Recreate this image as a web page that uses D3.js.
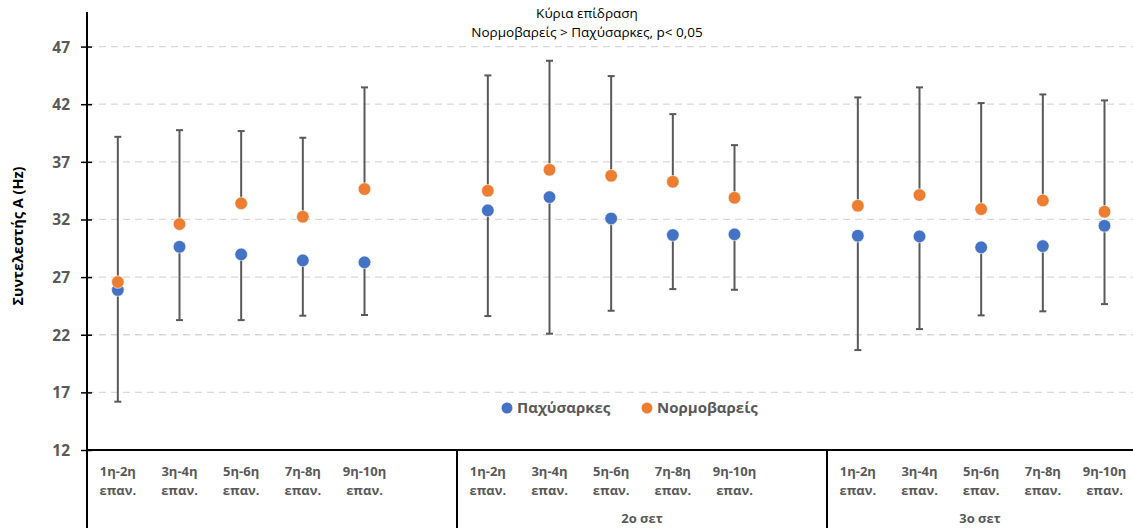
<!DOCTYPE html>
<html>
<head>
<meta charset="utf-8">
<script src="https://cdn.jsdelivr.net/npm/d3@7"></script>
<style>
  html, body { margin: 0; padding: 0; background: #fff; }
  svg { display: block; font-family: "Open Sans", "Noto Sans", sans-serif; }
</style>
</head>
<body>
<svg id="chart" width="1133" height="528"></svg>
<script>
// ---- data ----
const catLine1 = ["1η-2η", "3η-4η", "5η-6η", "7η-8η", "9η-10η"];
const catLine2 = "επαν.";
const setLabels = ["", "2ο σετ", "3ο σετ"];
const seriesNames = ["Παχύσαρκες", "Νορμοβαρείς"];
const yTicks = [12, 17, 22, 27, 32, 37, 42, 47];

// Παχύσαρκες (mean, SD shown below the mean)
const obeseMean = [25.88, 29.63, 28.97, 28.45, 28.28,
                   32.79, 33.94, 32.09, 30.65, 30.71,
                   30.59, 30.53, 29.58, 29.69, 31.45];
const obeseSD   = [9.69, 6.36, 5.70, 4.80, 4.57,
                   9.17, 11.85, 8.01, 4.69, 4.81,
                   9.92, 8.04, 5.90, 5.66, 6.79];
// Νορμοβαρείς (mean, SD shown above the mean)
const normalMean = [26.57, 31.60, 33.40, 32.24, 34.64,
                    34.49, 36.31, 35.79, 35.27, 33.88,
                    33.19, 34.12, 32.90, 33.65, 32.67];
const normalSD   = [12.60, 8.15, 6.27, 6.85, 8.82,
                    10.01, 9.46, 8.65, 5.87, 4.57,
                    9.40, 9.34, 9.20, 9.20, 9.66];

const titleLines = ["Κύρια επίδραση", "Νορμοβαρείς > Παχύσαρκες, p< 0,05"];
const yTitle = "Συντελεστής Α (Hz)";

(function () {
// ---- layout ----
const svg = d3.select("#chart");
const W = 1133, H = 528;
const plotLeft = 87, plotTop = 12, plotBottom = 450;
const slotsPerSet = 6;
const setWidth = 370;
const nSets = setLabels.length;
const slots = d3.range(nSets * slotsPerSet);

const x = d3.scaleBand().domain(slots).range([plotLeft, plotLeft + nSets * setWidth]).padding(0);
const y = d3.scaleLinear().domain([12, 50]).range([plotBottom, plotTop]);

const points = [];
for (let s = 0; s < nSets; s++) {
  for (let c = 0; c < catLine1.length; c++) {
    const i = s * catLine1.length + c;
    points.push({ slot: s * slotsPerSet + c, set: s, cat: c, i });
  }
}
const cx = d => x(d.slot) + x.bandwidth() / 2;

const grey = "#595959";
const blue = "#4472C4";
const orange = "#ED7D31";

// gridlines
svg.append("g").selectAll("line")
  .data(yTicks.filter(t => t !== 12))
  .join("line")
  .attr("x1", plotLeft).attr("x2", W)
  .attr("y1", d => y(d)).attr("y2", d => y(d))
  .attr("stroke", "#d9d9d9").attr("stroke-width", 1.3)
  .attr("stroke-dasharray", "7,5");

// y axis
const yAxis = d3.axisLeft(y).tickValues(yTicks).tickSize(0).tickPadding(0);
const gy = svg.append("g").attr("transform", `translate(${plotLeft},0)`).call(yAxis);
gy.select(".domain").remove();
gy.selectAll("text")
  .attr("x", -17).attr("dy", "0.35em")
  .attr("fill", grey).attr("font-size", 15.5).attr("font-weight", "bold")
  .attr("font-family", "'Open Sans', sans-serif");
gy.selectAll(".tick").append("line")
  .attr("x1", -6).attr("x2", 5).attr("stroke", "#000").attr("stroke-width", 1.5);

// axis lines
svg.append("line").attr("x1", plotLeft).attr("x2", plotLeft).attr("y1", plotTop).attr("y2", H)
  .attr("stroke", "#000").attr("stroke-width", 2);
svg.append("line").attr("x1", plotLeft).attr("x2", W).attr("y1", plotBottom).attr("y2", plotBottom)
  .attr("stroke", "#000").attr("stroke-width", 2);
// set separators
svg.append("g").selectAll("line")
  .data(d3.range(1, nSets))
  .join("line")
  .attr("x1", s => x(s * slotsPerSet)).attr("x2", s => x(s * slotsPerSet))
  .attr("y1", plotBottom).attr("y2", H)
  .attr("stroke", "#000").attr("stroke-width", 2);

// category labels
const catG = svg.append("g").selectAll("text").data(points).join("text")
  .attr("x", cx).attr("text-anchor", "middle")
  .attr("fill", grey).attr("font-size", 13).attr("font-weight", "bold");
catG.append("tspan").attr("x", cx).attr("y", 476).text(d => catLine1[d.cat]);
catG.append("tspan").attr("x", cx).attr("y", 495).text(catLine2);

// set labels
svg.append("g").selectAll("text").data(setLabels).join("text")
  .attr("x", (d, s) => s === nSets - 1 ? (x(s * slotsPerSet) + W) / 2 : x(s * slotsPerSet) + setWidth / 2)
  .attr("y", 523).attr("text-anchor", "middle")
  .attr("fill", grey).attr("font-size", 13).attr("font-weight", "bold")
  .text(d => d);

// error bars
function errBars(cls, from, to) {
  const g = svg.append("g").attr("class", cls);
  g.selectAll("line.v").data(points).join("line").attr("class", "v")
    .attr("x1", cx).attr("x2", cx)
    .attr("y1", d => y(from(d))).attr("y2", d => y(to(d)))
    .attr("stroke", grey).attr("stroke-width", 2);
  g.selectAll("line.c").data(points).join("line").attr("class", "c")
    .attr("x1", d => cx(d) - 3.5).attr("x2", d => cx(d) + 3.5)
    .attr("y1", d => y(to(d))).attr("y2", d => y(to(d)))
    .attr("stroke", grey).attr("stroke-width", 2);
}
errBars("err-obese", d => obeseMean[d.i], d => obeseMean[d.i] - obeseSD[d.i]);
errBars("err-normal", d => normalMean[d.i], d => normalMean[d.i] + normalSD[d.i]);

// dots
svg.append("g").selectAll("circle").data(points).join("circle")
  .attr("cx", cx).attr("cy", d => y(obeseMean[d.i])).attr("r", 6.3)
  .attr("fill", blue).attr("stroke", "#fff").attr("stroke-width", 0.6);
svg.append("g").selectAll("circle").data(points).join("circle")
  .attr("cx", cx).attr("cy", d => y(normalMean[d.i])).attr("r", 6.3)
  .attr("fill", orange).attr("stroke", "#fff").attr("stroke-width", 0.6);

// title
svg.append("g").selectAll("text").data(titleLines).join("text")
  .attr("x", 587).attr("y", (d, i) => 18 + i * 19)
  .attr("text-anchor", "middle").attr("fill", "#000").attr("font-size", 13.5)
  .text(d => d);

// y title
svg.append("text")
  .attr("transform", "translate(23,236) rotate(-90)")
  .attr("text-anchor", "middle").attr("fill", "#000")
  .attr("font-size", 14.5).attr("font-weight", "bold")
  .text(yTitle);

// legend
const legendColors = [blue, orange];
const legX = [507, 647];
const lg = svg.append("g").selectAll("g").data(seriesNames).join("g")
  .attr("transform", (d, i) => `translate(${legX[i]},408)`);
lg.append("circle").attr("r", 5.5).attr("fill", (d, i) => legendColors[i]);
lg.append("text").attr("x", 10).attr("dy", "0.35em")
  .attr("fill", grey).attr("font-size", 15).attr("font-weight", "bold")
  .text(d => d);
})();
</script>
</body>
</html>
